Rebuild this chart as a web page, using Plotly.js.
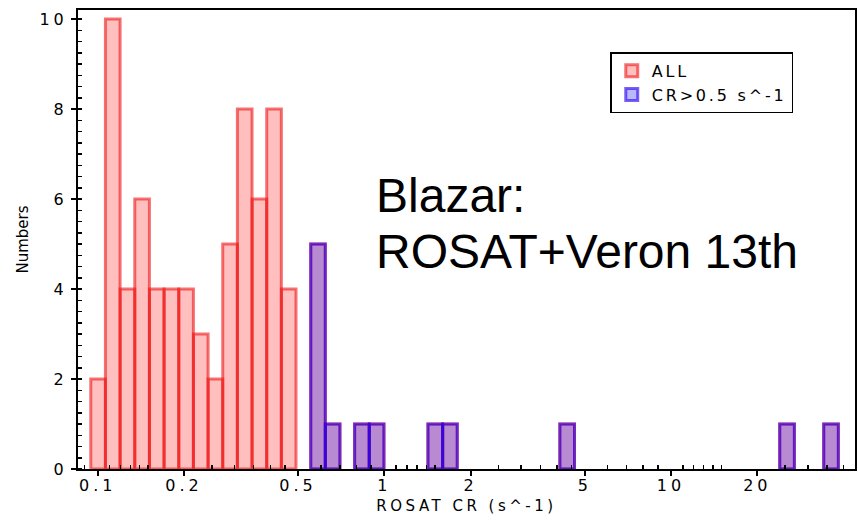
<!DOCTYPE html>
<html>
<head>
<meta charset="utf-8">
<script src="https://cdn.plot.ly/plotly-3.0.1.min.js"></script>
<style>
  html, body { margin: 0; padding: 0; background: #fff; }
  #chart { width: 858px; height: 520px; }
  .xtick text, .ytick text { letter-spacing: 4px; }
  text.xtitle { letter-spacing: 3.5px; }
  text.legendtext { letter-spacing: 2.8px; }
</style>
</head>
<body>
<div id="chart"></div>
<script>
// Histogram of ROSAT count rates (s^-1), log-spaced bins.
// Each bar is given by its lower and upper bin edge and its count.
const allLo = [0.0946, 0.1064, 0.1197, 0.1347, 0.1515, 0.1704, 0.1918, 0.2157, 0.2427, 0.2730,
               0.3071, 0.3455, 0.3887, 0.4372, 0.5535, 0.6224, 0.7875, 0.8859, 1.419, 1.597,
               4.094, 23.94, 34.09];
const allHi = [0.1064, 0.1197, 0.1347, 0.1515, 0.1704, 0.1918, 0.2157, 0.2427, 0.2730, 0.3071,
               0.3455, 0.3887, 0.4372, 0.4918, 0.6224, 0.7000, 0.8859, 0.9968, 1.597, 1.796,
               4.606, 26.94, 38.35];
const allCounts = [2, 10, 4, 6, 4, 4, 4, 3, 2, 5, 8, 6, 8, 4, 5, 1, 1, 1, 1, 1, 1, 1, 1];

// Sources brighter than 0.5 counts/s
const brightLo = [0.5535, 0.6224, 0.7875, 0.8859, 1.419, 1.597, 4.094, 23.94, 34.09];
const brightHi = [0.6224, 0.7000, 0.8859, 0.9968, 1.597, 1.796, 4.606, 26.94, 38.35];
const brightCounts = [5, 1, 1, 1, 1, 1, 1, 1, 1];

const seriesNames = ['ALL', 'CR>0.5 s^-1'];

const xMajor = [0.1, 0.2, 0.5, 1, 2, 5, 10, 20];
const xMajorText = ['0.1', '0.2', '0.5', '1', '2', '5', '10', '20'];
const xMinor = [0.09, 0.11, 0.12, 0.13, 0.14, 0.15, 0.25, 0.3, 0.35, 0.4, 0.45,
                0.6, 0.7, 0.8, 0.9, 1.1, 1.2, 1.3, 1.4, 1.5, 2.5, 3, 3.5, 4, 4.5,
                6, 7, 8, 9, 11, 12, 13, 14, 15, 25, 30, 35, 40];
const yMajor = [0, 2, 4, 6, 8, 10];
const yMajorText = ['0', '2', '4', '6', '8', '10'];

// A bar spans [lo, hi] in data units; on the log axis that is its bin.
function binBars(lo, hi, counts, name, fill, edge) {
  return {
    type: 'bar',
    name: name,
    x: lo.map((l, i) => (l + hi[i]) / 2),
    width: lo.map((l, i) => hi[i] - l),
    y: counts,
    marker: { color: fill, line: { color: edge, width: 3 } },
    hoverinfo: 'skip'
  };
}

const traces = [
  binBars(allLo, allHi, allCounts, seriesNames[0], 'rgba(255,0,0,0.25)', 'rgba(238,20,20,0.6)'),
  binBars(brightLo, brightHi, brightCounts, seriesNames[1], 'rgba(0,0,255,0.28)', 'rgba(40,0,235,0.62)')
];

const tickFont = { family: 'DejaVu Sans', size: 16, color: '#000' };

const layout = {
  width: 858,
  height: 520,
  margin: { l: 78, r: 3, t: 10, b: 51 },
  paper_bgcolor: '#fff',
  plot_bgcolor: '#fff',
  barmode: 'overlay',
  bargap: 0,
  showlegend: true,
  legend: {
    x: 0.685, y: 0.908, xanchor: 'left', yanchor: 'top',
    bgcolor: '#fff', bordercolor: '#000', borderwidth: 1.5,
    font: { family: 'DejaVu Sans', size: 16, color: '#000' }
  },
  xaxis: {
    type: 'log',
    range: [-1.0687, 1.6418],
    showline: true, linecolor: '#000', linewidth: 2, mirror: true,
    showgrid: false, zeroline: false,
    tickmode: 'array', tickvals: xMajor, ticktext: xMajorText,
    ticks: 'outside', ticklen: 5, tickwidth: 2, tickcolor: '#000',
    ticklabelstandoff: -4,
    minor: { tickmode: 'array', tickvals: xMinor, ticks: 'inside', ticklen: 4, tickwidth: 1.5, tickcolor: '#000' },
    tickfont: tickFont,
    title: { text: 'ROSAT CR (s^-1)', font: { family: 'DejaVu Sans', size: 15, color: '#000' }, standoff: 6 },
    automargin: false
  },
  yaxis: {
    range: [0, 10.2],
    showline: true, linecolor: '#000', linewidth: 2, mirror: true,
    showgrid: false, zeroline: false,
    tickmode: 'array', tickvals: yMajor, ticktext: yMajorText,
    ticks: 'outside', ticklen: 5, tickwidth: 2, tickcolor: '#000',
    minor: { dtick: 0.25, ticks: 'inside', ticklen: 4, tickwidth: 1.5, tickcolor: '#000' },
    tickfont: tickFont,
    title: { text: 'Numbers', font: { family: 'DejaVu Sans', size: 15, color: '#000' }, standoff: 7 },
    automargin: false
  },
  annotations: [
    { text: 'Blazar:', xref: 'paper', yref: 'paper', x: 0.381, y: 0.5954,
      xanchor: 'left', yanchor: 'middle', showarrow: false,
      font: { family: 'Liberation Sans', size: 48, color: '#000' } },
    { text: 'ROSAT+Veron 13th', xref: 'paper', yref: 'paper', x: 0.381, y: 0.4734,
      xanchor: 'left', yanchor: 'middle', showarrow: false,
      font: { family: 'Liberation Sans', size: 48, color: '#000' } }
  ]
};

Plotly.newPlot('chart', traces, layout, { staticPlot: true, displayModeBar: false });
</script>
</body>
</html>
